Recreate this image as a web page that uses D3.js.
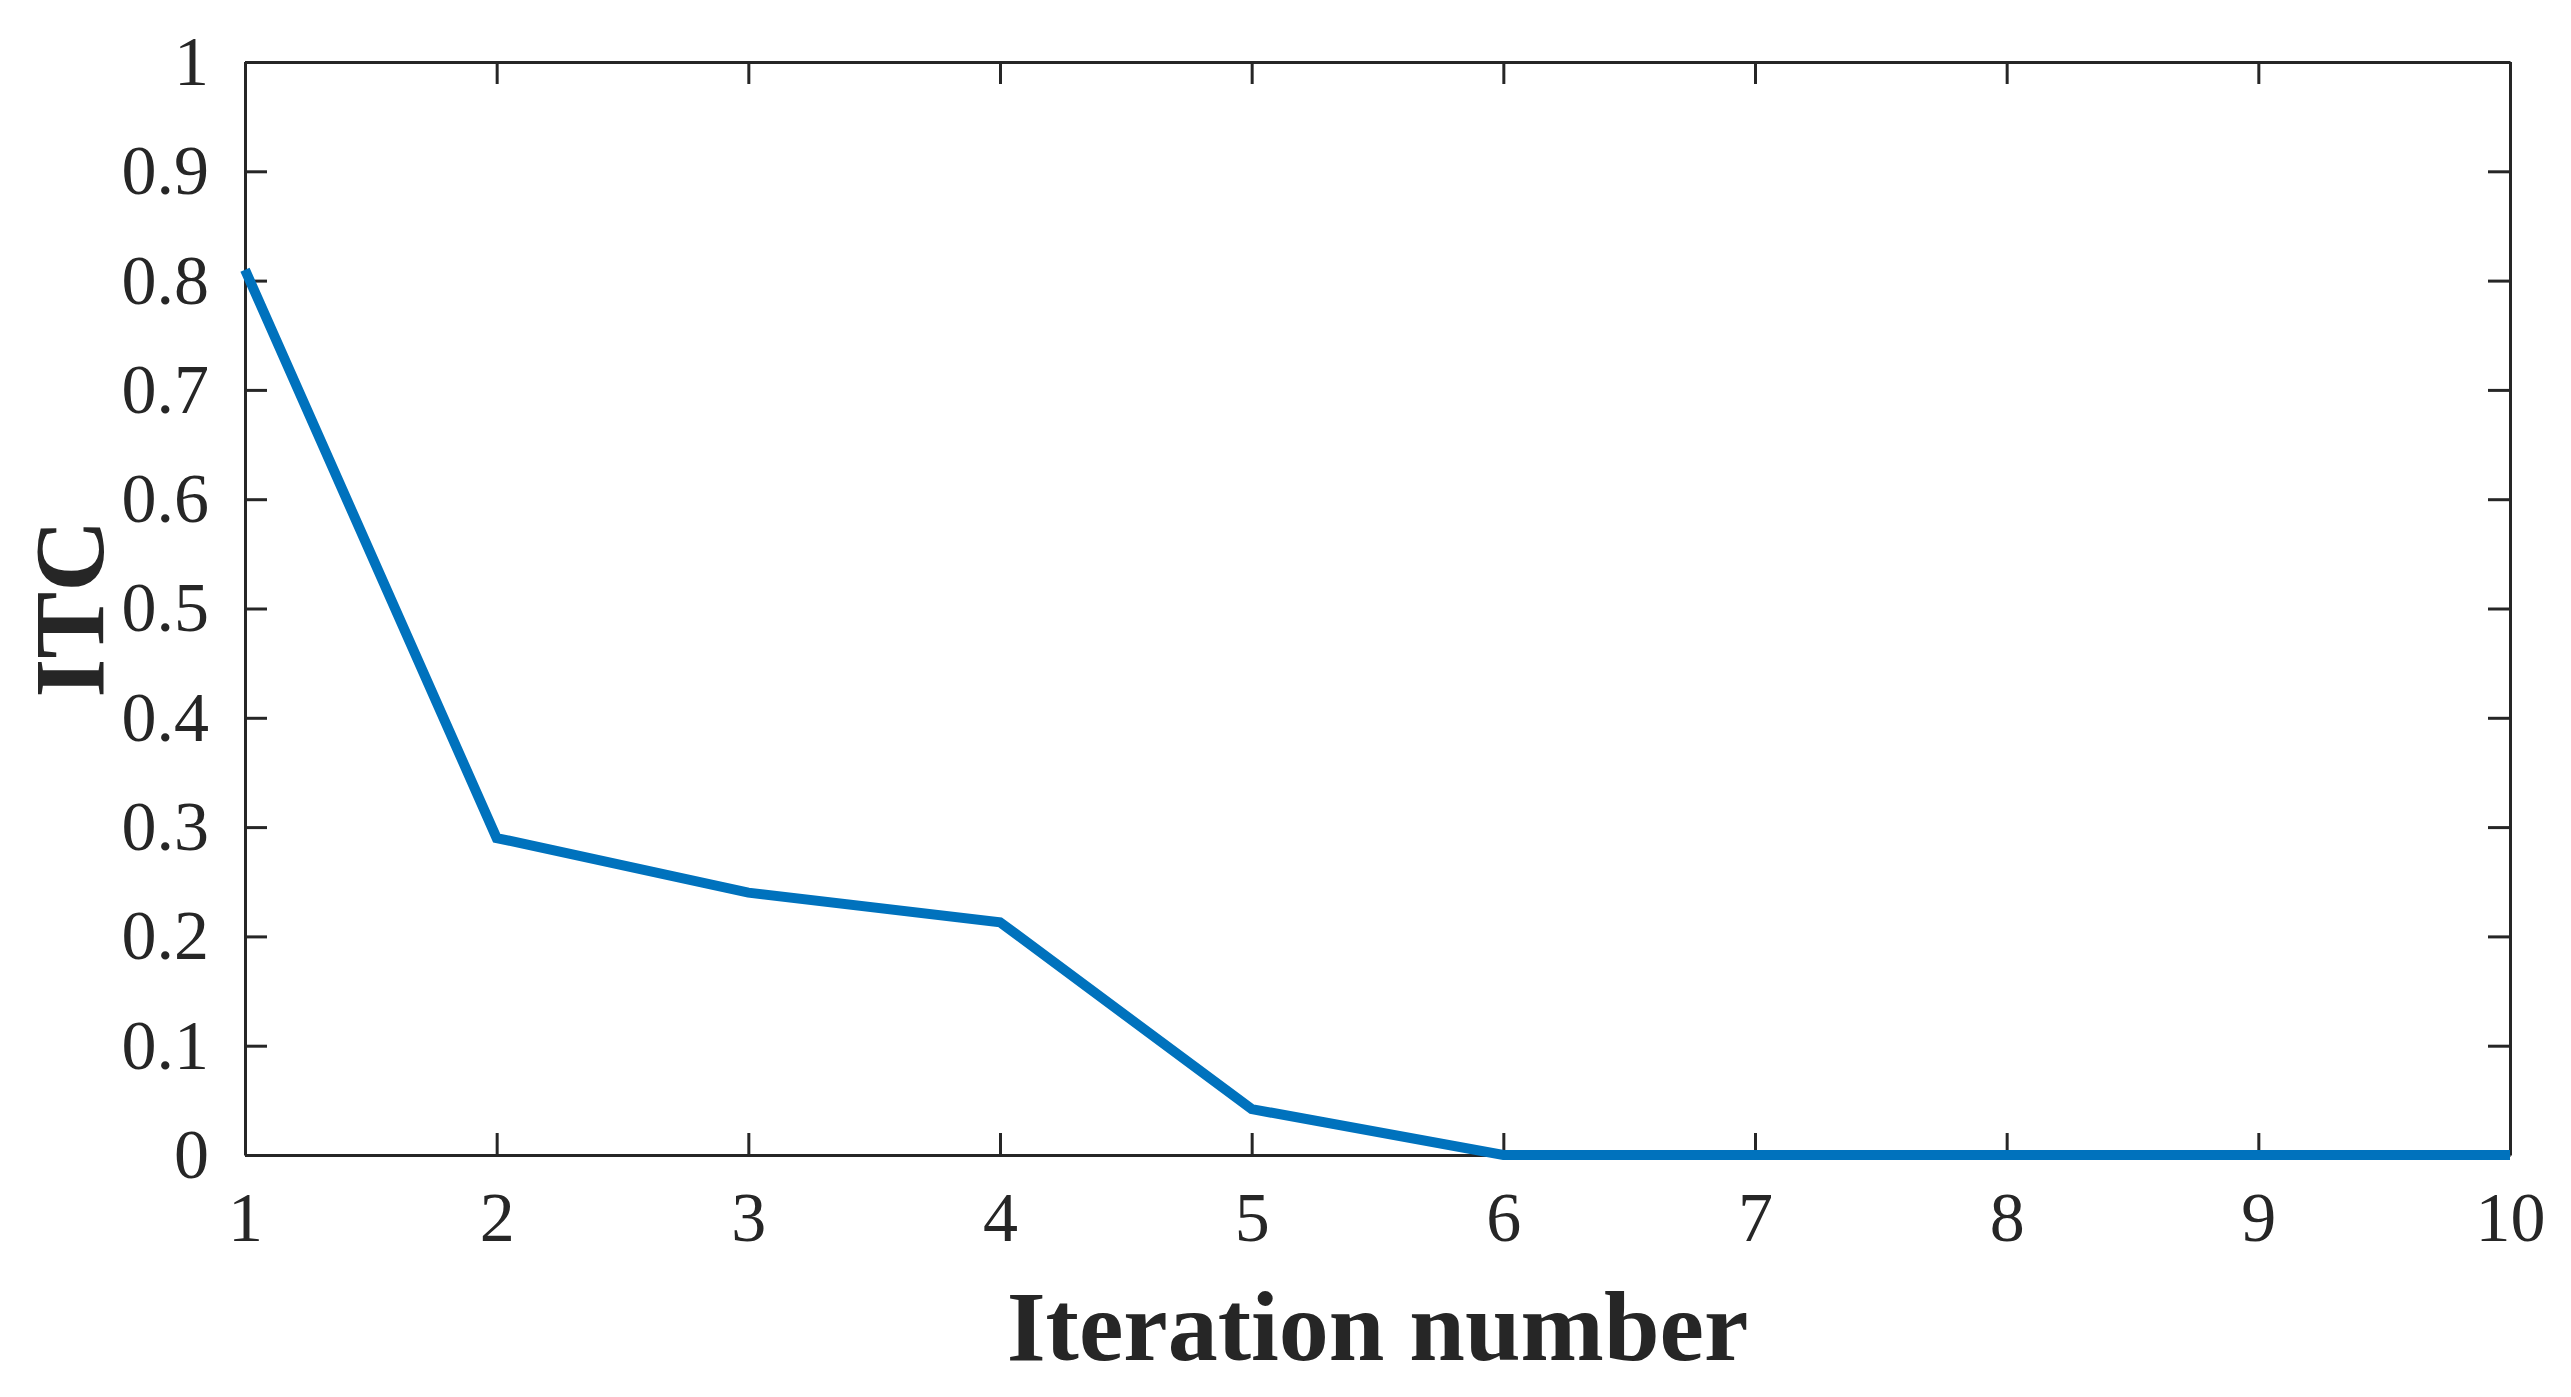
<!DOCTYPE html>
<html>
  <head>
    <meta charset="UTF-8" />
    <script src="https://d3js.org/d3.v7.min.js"></script>
    <style>
      body { margin: 0; background: #fff; }
      text { font-family: "Liberation Serif", "Times New Roman", serif; fill: #262626; }
    </style>
  </head>
  <body>
    <svg id="chart" width="2571" height="1397"></svg>
    <script>
      const iterations = [1, 2, 3, 4, 5, 6, 7, 8, 9, 10];
      const itcValues = [0.81, 0.29, 0.24, 0.213, 0.042, 0, 0, 0, 0, 0];
      const xTicks = [1, 2, 3, 4, 5, 6, 7, 8, 9, 10];
      const yTicks = [0, 0.1, 0.2, 0.3, 0.4, 0.5, 0.6, 0.7, 0.8, 0.9, 1];

      const plotLeft = 245, plotRight = 2510, plotTop = 62, plotBottom = 1155;
      const svg = d3.select("#chart");
      const x = d3.scaleLinear().domain([1, 10]).range([plotLeft, plotRight]);
      const y = d3.scaleLinear().domain([0, 1]).range([plotBottom, plotTop]);
      const tick = 22;

      const fmt = (d) => (d === 0 || d === 1 ? String(d) : d3.format(".1f")(d));

      // inward ticks on all four sides, like matlab "box on"
      const axes = [
        { g: d3.axisBottom(x).tickValues(xTicks).tickFormat(d3.format("d")), t: `translate(0,${plotBottom})` },
        { g: d3.axisTop(x).tickValues(xTicks).tickFormat(""), t: `translate(0,${plotTop})` },
        { g: d3.axisLeft(y).tickValues(yTicks).tickFormat(fmt), t: `translate(${plotLeft},0)` },
        { g: d3.axisRight(y).tickValues(yTicks).tickFormat(""), t: `translate(${plotRight},0)` },
      ];
      axes.forEach((a) => {
        const g = svg.append("g").attr("transform", a.t)
          .call(a.g.tickSizeInner(-tick).tickSizeOuter(0).tickPadding(tick + 14));
        g.select(".domain").attr("stroke", "#262626").attr("stroke-width", 3);
        g.selectAll(".tick line").attr("stroke", "#262626").attr("stroke-width", 3);
        g.selectAll("text").attr("font-size", 70).attr("font-family", "Liberation Serif").attr("fill", "#262626");
      });

      svg.append("path")
        .datum(iterations.map((d, i) => [d, itcValues[i]]))
        .attr("fill", "none")
        .attr("stroke", "#0072BD")
        .attr("stroke-width", 10)
        .attr("d", d3.line().x((d) => x(d[0])).y((d) => y(d[1])));

      svg.append("text")
        .attr("x", (plotLeft + plotRight) / 2).attr("y", 1360)
        .attr("text-anchor", "middle").attr("font-size", 100).attr("font-weight", "bold")
        .text("Iteration number");

      svg.append("text")
        .attr("transform", `translate(103,${(plotTop + plotBottom) / 2}) rotate(-90)`)
        .attr("text-anchor", "middle").attr("font-size", 100).attr("font-weight", "bold")
        .text("ITC");
    </script>
  </body>
</html>
